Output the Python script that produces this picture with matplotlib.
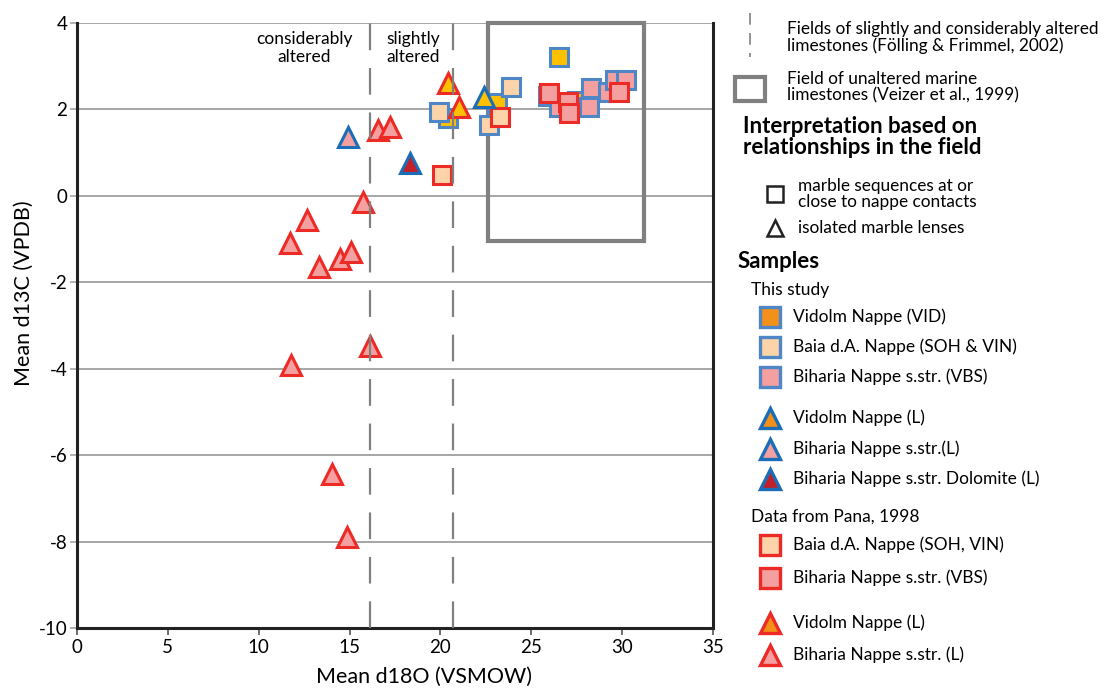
import matplotlib
matplotlib.use("Agg")
import matplotlib.pyplot as plt
from matplotlib.patches import Rectangle

plt.rcParams['font.family'] = ['Lato', 'DejaVu Sans']
plt.rcParams['axes.unicode_minus'] = False

# ---------------- data ----------------
# This study - squares (marble sequences at/close to nappe contacts)
vid_sq_x = [26.5, 20.4, 23.1, 25.9, 27.5]
vid_sq_y = [3.21, 1.80, 2.15, 2.31, 2.20]
baia_sq_x = [23.9, 19.9, 22.7]
baia_sq_y = [2.52, 1.94, 1.64]
bih_sq_x = [26.5, 28.2, 28.3, 29.2, 29.6, 30.2]
bih_sq_y = [2.06, 2.06, 2.50, 2.40, 2.68, 2.68]
# This study - triangles (isolated marble lenses)
vid_tri_x = [22.4]
vid_tri_y = [2.29]
bih_tri_x = [14.9]
bih_tri_y = [1.36]
dol_tri_x = [18.3]
dol_tri_y = [0.76]
# Data from Pana, 1998
pana_baia_sq_x = [20.1, 23.3]
pana_baia_sq_y = [0.48, 1.82]
pana_bih_sq_x = [26.0, 27.0, 27.1, 29.8]
pana_bih_sq_y = [2.38, 2.17, 1.92, 2.40]
pana_vid_tri_x = [20.4, 21.0]
pana_vid_tri_y = [2.61, 2.06]
pana_bih_tri_x = [11.7, 12.65, 13.3, 14.5, 15.08, 15.75, 16.56, 17.2, 11.77, 16.13, 14.03, 14.86]
pana_bih_tri_y = [-1.09, -0.56, -1.65, -1.46, -1.30, -0.14, 1.52, 1.59, -3.92, -3.48, -6.44, -7.90]

# alteration field limits (Fölling & Frimmel, 2002)
alter_limits = [16.1, 20.7]
# unaltered marine field (Veizer et al., 1999): x0, x1, y0, y1
veizer_box = [22.6, 31.2, -1.05, 4.0]

x_ticks = [0, 5, 10, 15, 20, 25, 30, 35]
y_ticks = [-10, -8, -6, -4, -2, 0, 2, 4]

legend_this_study = ["Vidolm Nappe (VID)", "Baia d.A. Nappe (SOH & VIN)", "Biharia Nappe s.str. (VBS)",
                     "Vidolm Nappe (L)", "Biharia Nappe s.str.(L)", "Biharia Nappe s.str. Dolomite (L)"]
legend_pana = ["Baia d.A. Nappe (SOH, VIN)", "Biharia Nappe s.str. (VBS)",
               "Vidolm Nappe (L)", "Biharia Nappe s.str. (L)"]

# ---------------- colours ----------------
BLUE_SQ = '#4F86C6'
BLUE_TRI = '#1B6DB8'
RED = '#EC2A26'
YELLOW = '#FFC000'
ORANGE = '#F39019'
PEACH = '#FDD3AA'
PINK = '#F4A0A0'
DARKRED = '#C3202A'
GRID = '#A6A6A6'
DASH = '#808080'

W, H = 1110, 690
fig = plt.figure(figsize=(W / 100, H / 100), dpi=100)
ax = fig.add_axes([77 / W, 1 - 628 / H, (713 - 77) / W, (628 - 23) / H])

ax.set_xlim(0, 35)
ax.set_ylim(-10, 4)
ax.set_xticks(x_ticks)
ax.set_yticks(y_ticks)
ax.tick_params(axis='both', labelsize=13.5, colors='black')
ax.tick_params(axis='x', length=5, width=1.2, direction='out', color='#555555', pad=3)
ax.tick_params(axis='y', length=5, width=1.2, direction='out', color=GRID, pad=2)
for yv in y_ticks[1:]:
    ax.axhline(yv, color=GRID, lw=1.4, zorder=1)
for s in ['left', 'bottom', 'right']:
    ax.spines[s].set_linewidth(2.2)
    ax.spines[s].set_color('#222222')
ax.spines['top'].set_visible(False)
ax.set_xlabel('Mean d18O (VSMOW)', fontsize=15.5)
ax.set_ylabel('Mean d13C (VPDB)', fontsize=15.5)
ax.xaxis.set_label_coords(0.546, -0.064)
ax.yaxis.set_label_coords(-0.068, 0.554)

# Veizer box
bx0, bx1, by0, by1 = veizer_box
ax.add_patch(Rectangle((bx0, by0), bx1 - bx0, by1 - by0, fill=False, ec=DASH, lw=3, zorder=2, clip_on=False))

SQ_MS = 12.5
TRI_MS = 14
MEW = 2.2

def sq(x, y, fc, ec):
    ax.plot(x, y, ls='none', marker='s', ms=SQ_MS, mfc=fc, mec=ec, mew=MEW, zorder=3)

def tri(x, y, fc, ec):
    ax.plot(x, y, ls='none', marker='^', ms=TRI_MS, mfc=fc, mec=ec, mew=MEW, zorder=4)

sq(vid_sq_x, vid_sq_y, YELLOW, BLUE_SQ)
sq(baia_sq_x, baia_sq_y, PEACH, BLUE_SQ)
sq(bih_sq_x, bih_sq_y, PINK, BLUE_SQ)
tri(vid_tri_x, vid_tri_y, YELLOW, BLUE_TRI)
tri(bih_tri_x, bih_tri_y, PINK, BLUE_TRI)
tri(dol_tri_x, dol_tri_y, DARKRED, BLUE_TRI)
sq(pana_baia_sq_x, pana_baia_sq_y, PEACH, RED)
sq(pana_bih_sq_x, pana_bih_sq_y, PINK, RED)
tri(pana_vid_tri_x, pana_vid_tri_y, YELLOW, RED)
tri(pana_bih_tri_x, pana_bih_tri_y, PINK, RED)

for xv in alter_limits:
    ln = ax.axvline(xv, color=DASH, lw=1.6, zorder=5)
    ln.set_dashes([12, 8])

ax.text(12.5, 3.42, 'considerably\naltered', ha='center', va='center', fontsize=12.5, linespacing=1.2)
ax.text(18.5, 3.42, 'slightly\naltered', ha='center', va='center', fontsize=12.5, linespacing=1.2)

# ---------------- legend (figure pixel coordinates) ----------------
lax = fig.add_axes([0, 0, 1, 1])
lax.set_xlim(0, W)
lax.set_ylim(H, 0)
lax.axis('off')

FS_S = 12.4
lg = lax.plot([750, 750], [13, 57], color=DASH, lw=1.2)[0]
lg.set_dashes([7, 5])
lax.text(787, 37.5, 'Fields of slightly and considerably altered\nlimestones (Fölling & Frimmel, 2002)',
         ha='left', va='center', fontsize=FS_S, linespacing=1.0)
lax.add_patch(Rectangle((735, 77), 30, 24, fill=False, ec=DASH, lw=3))
lax.text(787, 87, 'Field of unaltered marine\nlimestones (Veizer et al., 1999)',
         ha='left', va='center', fontsize=FS_S, linespacing=1.0)
lax.text(743, 137, 'Interpretation based on\nrelationships in the field',
         ha='left', va='center', fontsize=16, fontweight='bold', linespacing=1.05)
lax.plot([775], [194], ls='none', marker='s', ms=11, mfc='white', mec='#222222', mew=1.8)
lax.text(798, 194, 'marble sequences at or\nclose to nappe contacts', ha='left', va='center',
         fontsize=FS_S, linespacing=1.0)
lax.plot([775], [228], ls='none', marker='^', ms=12, mfc='white', mec='#222222', mew=1.8)
lax.text(798, 228, 'isolated marble lenses', ha='left', va='center', fontsize=FS_S)

lax.text(738, 262, 'Samples', ha='left', va='center', fontsize=16, fontweight='bold')
lax.text(751, 290, 'This study', ha='left', va='center', fontsize=12.5)

FS_E = 12.5
ts_styles = [('s', ORANGE, BLUE_SQ), ('s', PEACH, BLUE_SQ), ('s', PINK, BLUE_SQ),
             ('^', ORANGE, BLUE_TRI), ('^', PINK, BLUE_TRI), ('^', DARKRED, BLUE_TRI)]
ts_y = [317, 347, 377, 418, 449, 479]
for (m, fc, ec), yy, lab in zip(ts_styles, ts_y, legend_this_study):
    lax.plot([770], [yy], ls='none', marker=m, ms=14 if m == 's' else 15, mfc=fc, mec=ec, mew=2.4)
    lax.text(793, yy, lab, ha='left', va='center', fontsize=FS_E)

lax.text(751, 517, 'Data from Pana, 1998', ha='left', va='center', fontsize=12.5)
p_styles = [('s', PEACH, RED), ('s', PINK, RED), ('^', ORANGE, RED), ('^', PINK, RED)]
p_y = [545, 578, 623, 655]
for (m, fc, ec), yy, lab in zip(p_styles, p_y, legend_pana):
    lax.plot([770], [yy], ls='none', marker=m, ms=14 if m == 's' else 15, mfc=fc, mec=ec, mew=2.4)
    lax.text(793, yy, lab, ha='left', va='center', fontsize=FS_E)

fig.savefig('out.png', dpi=100)
